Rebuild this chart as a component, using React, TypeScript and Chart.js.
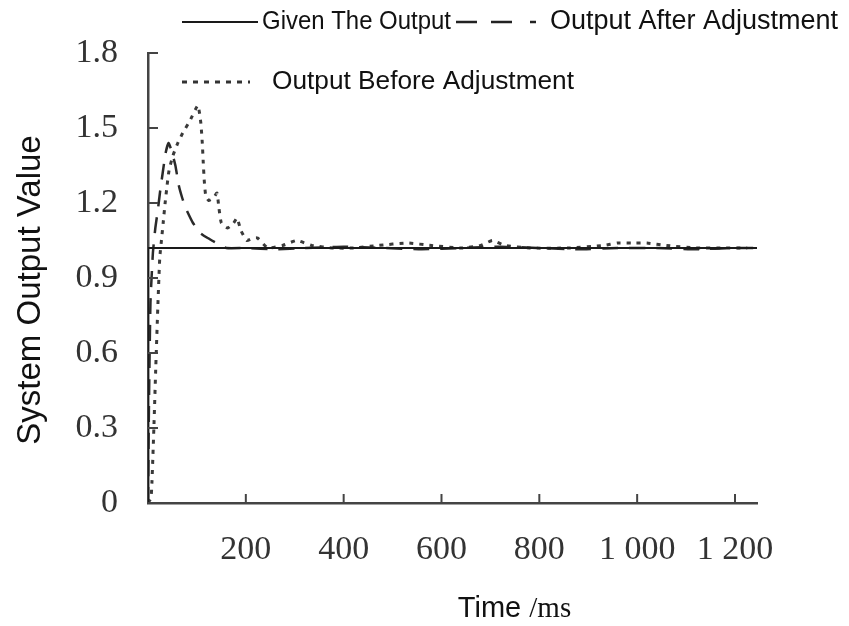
import React, { useEffect, useRef } from 'react';
import { Chart, registerables } from 'chart.js';

Chart.register(...registerables);

// ---- data ----
const givenTime = [0, 0, 1245];
const givenValue = [0, 1.02, 1.02];

const afterTime = [0, 2, 5, 10, 15, 20, 25, 30, 36, 42, 48, 56, 63, 70, 77, 92, 107, 122, 140, 160, 200, 260, 320, 400, 480, 560, 640, 720, 800, 880, 960, 1040, 1120, 1200, 1240];
const afterValue = [0, 0.4, 0.8, 1.0, 1.1, 1.17, 1.25, 1.32, 1.4, 1.44, 1.41, 1.35, 1.27, 1.22, 1.18, 1.12, 1.08, 1.06, 1.04, 1.02, 1.02, 1.015, 1.02, 1.025, 1.02, 1.015, 1.02, 1.025, 1.02, 1.015, 1.02, 1.02, 1.015, 1.02, 1.02];

const beforeTime = [0, 6, 8, 12, 16, 20, 24, 28, 31, 35, 39, 43, 51, 61, 71, 86, 102, 108, 111, 113, 115, 118, 124, 134, 141, 145, 150, 163, 175, 182, 190, 202, 215, 224, 245, 275, 304, 335, 380, 420, 470, 530, 580, 640, 680, 704, 730, 780, 860, 930, 960, 990, 1020, 1060, 1120, 1180, 1225];
const beforeValue = [0, 0.02, 0.08, 0.3, 0.55, 0.78, 0.98, 1.06, 1.12, 1.2, 1.27, 1.33, 1.39, 1.44, 1.48, 1.53, 1.59, 1.52, 1.44, 1.36, 1.29, 1.23, 1.21, 1.22, 1.24, 1.18, 1.12, 1.1, 1.12, 1.14, 1.09, 1.05, 1.06, 1.06, 1.02, 1.03, 1.05, 1.03, 1.02, 1.02, 1.03, 1.04, 1.03, 1.02, 1.03, 1.05, 1.03, 1.02, 1.02, 1.03, 1.04, 1.04, 1.04, 1.03, 1.02, 1.02, 1.02];

const seriesNames = ['Given The Output', 'Output After Adjustment', 'Output Before Adjustment'];

const xTickValues = [200, 400, 600, 800, 1000, 1200];
const xTickLabels = ['200', '400', '600', '800', '1 000', '1 200'];
const yTickValues = [0, 0.3, 0.6, 0.9, 1.2, 1.5, 1.8];
const yTickLabels = ['0', '0.3', '0.6', '0.9', '1.2', '1.5', '1.8'];

const xTitleMain = 'Time';
const xTitleUnit = '/ms';
const yTitle = 'System Output Value';

const SANS = '"Liberation Sans", Arial, sans-serif';
const SERIF = '"Liberation Serif", "Times New Roman", serif';

const toPoints = (xs: number[], ys: number[]) => xs.map((x, i) => ({ x, y: ys[i] }));

const decorPlugin = {
  id: 'decor',
  afterDraw(chart: any) {
    const ctx = chart.ctx as CanvasRenderingContext2D;
    const area = chart.chartArea;
    const xs = chart.scales.x;
    const ys = chart.scales.y;
    ctx.save();
    // inner tick marks
    ctx.strokeStyle = '#444';
    ctx.lineWidth = 2;
    ctx.setLineDash([]);
    yTickValues.forEach((v) => {
      const y = ys.getPixelForValue(v);
      ctx.beginPath();
      ctx.moveTo(area.left, y);
      ctx.lineTo(area.left + 10, y);
      ctx.stroke();
    });
    xTickValues.forEach((v) => {
      const x = xs.getPixelForValue(v);
      ctx.beginPath();
      ctx.moveTo(x, area.bottom);
      ctx.lineTo(x, area.bottom - 9);
      ctx.stroke();
    });

    // legend
    ctx.fillStyle = '#111';
    ctx.textBaseline = 'middle';
    ctx.textAlign = 'left';
    const r1 = 22;
    const r2 = 82;
    ctx.strokeStyle = '#1a1a1a';
    ctx.lineWidth = 2;
    ctx.beginPath();
    ctx.moveTo(182, r1);
    ctx.lineTo(258, r1);
    ctx.stroke();
    ctx.font = `26px ${SANS}`;
    ctx.fillText(seriesNames[0], 262, r1, 189);

    ctx.strokeStyle = '#222';
    ctx.lineWidth = 2.5;
    ctx.setLineDash([21, 14, 21, 18, 6, 200]);
    ctx.beginPath();
    ctx.moveTo(456, r1);
    ctx.lineTo(542, r1);
    ctx.stroke();
    ctx.setLineDash([]);
    ctx.font = `27px ${SANS}`;
    ctx.fillText(seriesNames[1], 550, r1, 288);

    ctx.strokeStyle = '#333';
    ctx.lineWidth = 3;
    ctx.setLineDash([5, 6]);
    ctx.beginPath();
    ctx.moveTo(182, r2);
    ctx.lineTo(250, r2);
    ctx.stroke();
    ctx.setLineDash([]);
    ctx.font = `26.3px ${SANS}`;
    ctx.fillText(seriesNames[2], 272, r2, 302);

    // x title
    ctx.textBaseline = 'alphabetic';
    ctx.font = `29px ${SANS}`;
    const w1 = ctx.measureText(xTitleMain + ' ').width;
    ctx.font = `29px ${SERIF}`;
    const w2 = ctx.measureText(xTitleUnit).width;
    const cx = (area.left + area.right) / 2 + 62;
    const sx = cx - (w1 + w2) / 2;
    ctx.font = `29px ${SANS}`;
    ctx.fillText(xTitleMain + ' ', sx, 617);
    ctx.font = `29px ${SERIF}`;
    ctx.fillText(xTitleUnit, sx + w1, 617);

    // y title
    ctx.translate(31, 290);
    ctx.rotate(-Math.PI / 2);
    ctx.textAlign = 'center';
    ctx.textBaseline = 'middle';
    ctx.font = `33px ${SANS}`;
    ctx.fillText(yTitle, 0, 0);
    ctx.restore();
  },
};

export default function App() {
  const ref = useRef<HTMLCanvasElement | null>(null);
  useEffect(() => {
    if (!ref.current) return;
    const chart = new Chart(ref.current, {
      type: 'line',
      data: {
        datasets: [
          {
            label: seriesNames[0],
            data: toPoints(givenTime, givenValue),
            borderColor: '#1a1a1a',
            borderWidth: 2,
            pointRadius: 0,
            tension: 0,
          },
          {
            label: seriesNames[1],
            data: toPoints(afterTime, afterValue),
            borderColor: '#2a2a2a',
            borderWidth: 2.5,
            borderDash: [16, 11],
            pointRadius: 0,
            tension: 0.15,
          },
          {
            label: seriesNames[2],
            data: toPoints(beforeTime, beforeValue),
            borderColor: '#3a3a3a',
            borderWidth: 3,
            borderDash: [4, 6],
            pointRadius: 0,
            tension: 0.15,
          },
        ],
      },
      options: {
        animation: false,
        responsive: false,
        layout: { padding: { left: 0, right: 92, top: 53, bottom: 0 } },
        plugins: { legend: { display: false }, tooltip: { enabled: false } },
        scales: {
          x: {
            type: 'linear',
            min: 0,
            max: 1245,
            afterBuildTicks: (s: any) => {
              s.ticks = xTickValues.map((v) => ({ value: v }));
            },
            afterFit: (s: any) => {
              s.height = 123;
            },
            ticks: {
              callback: (v: any) => {
                const i = xTickValues.indexOf(Number(v));
                return i >= 0 ? xTickLabels[i] : '';
              },
              font: { family: SERIF, size: 34 },
              color: '#333',
              padding: 27,
              maxRotation: 0,
              autoSkip: false,
            },
            grid: { display: true, drawOnChartArea: false, drawTicks: false, color: 'rgba(0,0,0,0)' },
            border: { display: true, color: '#444', width: 2.5 },
          },
          y: {
            type: 'linear',
            min: 0,
            max: 1.8,
            afterBuildTicks: (s: any) => {
              s.ticks = yTickValues.map((v) => ({ value: v }));
            },
            afterFit: (s: any) => {
              s.width = 148;
            },
            ticks: {
              callback: (v: any) => {
                const i = yTickValues.indexOf(Number(v));
                return i >= 0 ? yTickLabels[i] : '';
              },
              font: { family: SERIF, size: 34 },
              color: '#333',
              padding: 30,
              autoSkip: false,
            },
            grid: { display: true, drawOnChartArea: false, drawTicks: false, color: 'rgba(0,0,0,0)' },
            border: { display: true, color: '#444', width: 2.5 },
          },
        },
      },
      plugins: [decorPlugin],
    } as any);
    return () => chart.destroy();
  }, []);

  return (
    <div style={{ position: 'absolute', left: 0, top: 0, width: 849, height: 626, background: '#fff' }}>
      <canvas ref={ref} width={849} height={626} />
    </div>
  );
}
